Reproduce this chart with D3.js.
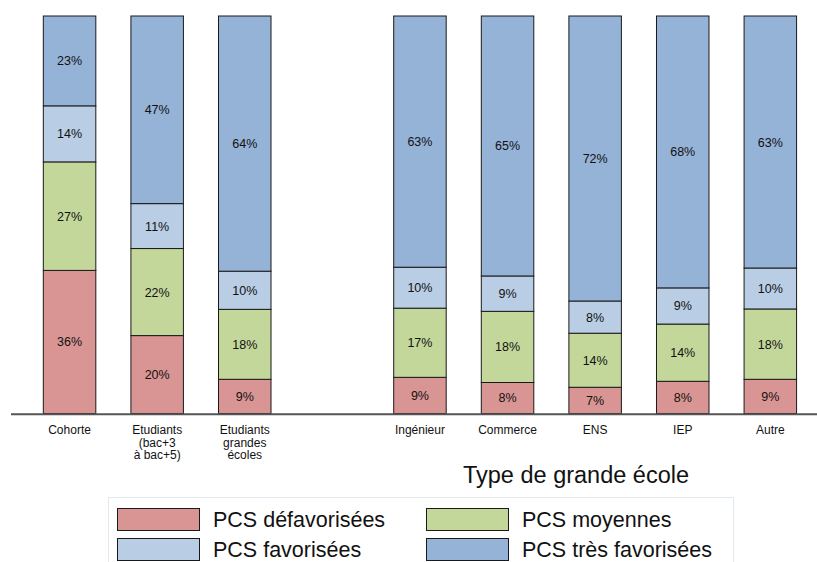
<!DOCTYPE html>
<html>
<head>
<meta charset="utf-8">
<script src="https://cdn.jsdelivr.net/npm/d3@7"></script>
<style>
  html, body { margin: 0; padding: 0; background: #fff; }
  svg { display: block; font-family: "Liberation Sans", Arial, Helvetica, sans-serif; }
</style>
</head>
<body>
<svg id="chart" width="817" height="562"></svg>
<script>
// ---- Data ----
const categories = [
  "Cohorte",
  "Etudiants\n(bac+3\nà bac+5)",
  "Etudiants\ngrandes\nécoles",
  "Ingénieur",
  "Commerce",
  "ENS",
  "IEP",
  "Autre"
];
const seriesNames = ["PCS défavorisées", "PCS moyennes", "PCS favorisées", "PCS très favorisées"];
const seriesColors = ["#D99594", "#C4D79B", "#B9CDE5", "#95B3D7"];

// shares (%) per category
const defavorisees   = [36.0, 19.6,  8.6,  9.1,  7.8,  6.6,  8.1,  8.6];
const moyennes       = [27.3, 21.9, 17.6, 17.4, 17.9, 13.6, 14.4, 17.7];
const favorisees     = [14.1, 11.3,  9.6, 10.3,  8.9,  8.1,  9.1, 10.3];
const tresFavorisees = [22.6, 47.2, 64.2, 63.2, 65.4, 71.7, 68.4, 63.4];

const groupTitle = "Type de grande école";
const gapAfterIndex = 2; // empty slot between the overall bars and the school types

// ---- Build table ----
const keys = ["s0", "s1", "s2", "s3"];
const table = categories.map((c, i) => ({
  cat: c,
  s0: defavorisees[i], s1: moyennes[i], s2: favorisees[i], s3: tresFavorisees[i]
}));

const svg = d3.select("#chart");

const domain = categories.slice(0, gapAfterIndex + 1)
  .concat(["__gap__"])
  .concat(categories.slice(gapAfterIndex + 1));

const x = d3.scaleBand()
  .domain(domain)
  .range([25.8, 814.1])
  .paddingInner(0.4007)
  .paddingOuter(0.2);

const y = d3.scaleLinear().domain([0, 100]).range([413.5, 16]);

const stack = d3.stack().keys(keys);
const layers = stack(table);

const fmt = v => Math.round(v) + "%";

const gLayers = svg.append("g");
layers.forEach((layer, li) => {
  const g = gLayers.append("g").attr("fill", seriesColors[li]);
  g.selectAll("rect")
    .data(layer)
    .join("rect")
    .attr("x", d => x(d.data.cat))
    .attr("width", x.bandwidth())
    .attr("y", d => y(d[1]))
    .attr("height", d => y(d[0]) - y(d[1]))
    .attr("stroke", "#1a1a1a")
    .attr("stroke-width", 1);
  g.selectAll("text")
    .data(layer)
    .join("text")
    .attr("x", d => x(d.data.cat) + x.bandwidth() / 2)
    .attr("y", d => (y(d[0]) + y(d[1])) / 2)
    .attr("dy", "0.36em")
    .attr("text-anchor", "middle")
    .attr("font-size", 12.5)
    .attr("fill", "#111")
    .text(d => fmt(d[1] - d[0]));
});

// baseline axis (no ticks)
const xAxis = d3.axisBottom(x).tickSize(0).tickFormat("");
const axisG = svg.append("g")
  .attr("transform", `translate(0,${y(0) + 0.8})`)
  .call(xAxis);
axisG.select(".domain").remove();
axisG.append("line")
  .attr("x1", 11).attr("x2", 817)
  .attr("stroke", "#555").attr("stroke-width", 2);

// category labels
const labelG = svg.append("g");
categories.forEach(c => {
  const lines = c.split("\n");
  const t = labelG.append("text")
    .attr("text-anchor", "middle")
    .attr("font-size", 12)
    .attr("fill", "#111");
  lines.forEach((ln, i) => {
    t.append("tspan")
      .attr("x", x(c) + x.bandwidth() / 2)
      .attr("y", 434 + i * 12.6)
      .text(ln);
  });
});

// group title
svg.append("text")
  .attr("x", 576)
  .attr("y", 482.5)
  .attr("text-anchor", "middle")
  .attr("font-size", 23.5)
  .attr("fill", "#111")
  .text(groupTitle);

// legend
const lg = svg.append("g");
lg.append("rect")
  .attr("x", 108.5).attr("y", 497.5)
  .attr("width", 625).attr("height", 80)
  .attr("fill", "#fff")
  .attr("stroke", "#e2e9ee").attr("stroke-width", 1);

const legendCols = [117, 426];
const legendRows = [508, 538];
seriesNames.forEach((name, i) => {
  const col = i % 2, row = Math.floor(i / 2);
  const sx = legendCols[col], sy = legendRows[row];
  lg.append("rect")
    .attr("x", sx + 0.5).attr("y", sy + 0.5)
    .attr("width", 82).attr("height", 22)
    .attr("fill", seriesColors[i])
    .attr("stroke", "#1a1a1a").attr("stroke-width", 1);
  lg.append("text")
    .attr("x", sx + 96)
    .attr("y", sy + 19.3)
    .attr("font-size", 21.5)
    .attr("fill", "#111")
    .text(name);
});
</script>
</body>
</html>
